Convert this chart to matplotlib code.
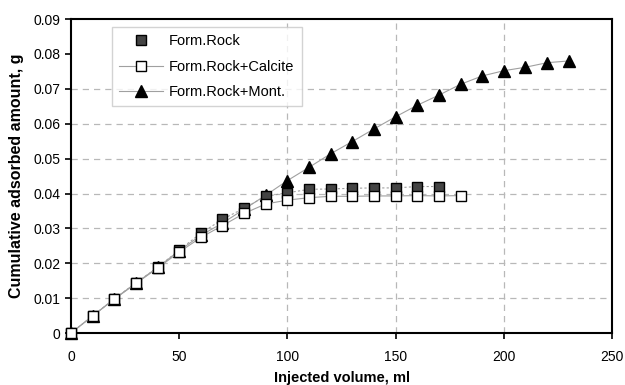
import matplotlib
matplotlib.use("Agg")
import matplotlib.pyplot as plt
from matplotlib.ticker import FuncFormatter
from matplotlib.lines import Line2D

plt.rcParams['font.family'] = ['Liberation Sans', 'DejaVu Sans']

x_rock = [0, 10, 20, 30, 40, 50, 60, 70, 80, 90, 100, 110, 120, 130, 140, 150, 160, 170]
y_rock = [0, 0.0049, 0.0098, 0.0144, 0.0188, 0.0238, 0.0286, 0.0326, 0.0358, 0.0392, 0.0402,
          0.0412, 0.0413, 0.0415, 0.0416, 0.0416, 0.0420, 0.0420]

x_calc = [0, 10, 20, 30, 40, 50, 60, 70, 80, 90, 100, 110, 120, 130, 140, 150, 160, 170, 180]
y_calc = [0, 0.0049, 0.0097, 0.0142, 0.0186, 0.0232, 0.0274, 0.0308, 0.0343, 0.0370, 0.0381,
          0.0388, 0.0392, 0.0392, 0.0393, 0.0393, 0.0394, 0.0393, 0.0394]

x_mont = [0, 10, 20, 30, 40, 50, 60, 70, 80, 90, 100, 110, 120, 130, 140, 150, 160, 170,
          180, 190, 200, 210, 220, 230]
y_mont = [0, 0.0049, 0.0098, 0.0143, 0.0188, 0.0236, 0.0280, 0.0315, 0.0355, 0.0395, 0.0437,
          0.0475, 0.0514, 0.0549, 0.0585, 0.0620, 0.0653, 0.0682, 0.0713, 0.0737, 0.0752,
          0.0762, 0.0775, 0.0780]

labels = ['Form.Rock', 'Form.Rock+Calcite', 'Form.Rock+Mont.']
x_ticks = [0, 50, 100, 150, 200, 250]
y_ticks = [0, 0.01, 0.02, 0.03, 0.04, 0.05, 0.06, 0.07, 0.08, 0.09]
x_grid = [100, 150, 200]
y_grid = [0.01, 0.02, 0.03, 0.04, 0.05, 0.06, 0.07]

fig = plt.figure(figsize=(6.25, 3.85), dpi=100)
ax = fig.add_axes([0.1136, 0.135, 0.8656, 0.8154])

for g in y_grid:
    ax.axhline(g, color='#b8b8b8', lw=0.9, ls=(0, (5, 4)), zorder=0)
for g in x_grid:
    ax.axvline(g, color='#b8b8b8', lw=0.9, ls=(0, (5, 4)), zorder=0)

ax.plot(x_mont, y_mont, color='#a0a0a0', lw=0.8, ls='-', marker='^', ms=8,
        mfc='black', mec='black', zorder=3, clip_on=False)
ax.plot(x_rock, y_rock, color='#a0a0a0', lw=0.8, ls=(0, (2, 2)), marker='s', ms=7,
        mfc='#444444', mec='black', mew=1.0, zorder=4, clip_on=False)
ax.plot(x_calc, y_calc, color='#a0a0a0', lw=0.8, ls='-', marker='s', ms=7,
        mfc='white', mec='black', mew=1.0, zorder=5, clip_on=False)

ax.set_xlim(0, 250)
ax.set_ylim(0, 0.09)
ax.set_xticks(x_ticks)
ax.set_yticks(y_ticks)
ax.yaxis.set_major_formatter(FuncFormatter(lambda v, p: '0' if v == 0 else f'{v:.2f}'))
ax.tick_params(direction='out', length=4, width=1.2, labelsize=10, colors='black')
ax.tick_params(axis='x', pad=8)
for s in ax.spines.values():
    s.set_linewidth(1.5)
    s.set_color('black')

ax.set_xlabel('Injected volume, ml', fontsize=10.5, fontweight='bold', labelpad=5)
ax.set_ylabel('Cumulative adsorbed amount, g', fontsize=11.5, fontweight='bold', labelpad=7)

handles = [
    Line2D([], [], ls='none', marker='s', ms=7, mfc='#444444', mec='black'),
    Line2D([], [], color='#a0a0a0', lw=0.8, marker='s', ms=7, mfc='white', mec='black'),
    Line2D([], [], color='#a0a0a0', lw=0.8, marker='^', ms=8, mfc='black', mec='black'),
]
leg = ax.legend(handles, labels, loc='upper left',
                bbox_to_anchor=(0.076, 0.9745), borderaxespad=0.0, fontsize=10.5,
                frameon=True, fancybox=False, edgecolor='#c8c8c8', handlelength=3.0,
                borderpad=0.5, labelspacing=0.78, handletextpad=0.4)
leg.get_frame().set_linewidth(1.0)

fig.savefig('out.png', dpi=100)
